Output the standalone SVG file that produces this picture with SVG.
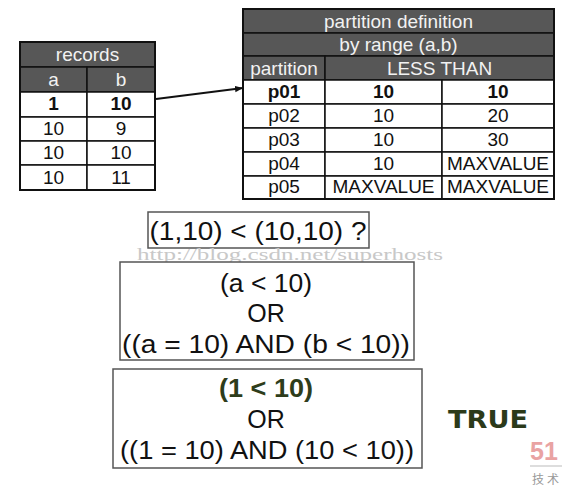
<svg xmlns="http://www.w3.org/2000/svg" width="562" height="491" viewBox="0 0 562 491">
<defs>
<style>
text{font-family:"Liberation Sans",Arial,sans-serif;text-anchor:middle}
.hd{fill:#575757;stroke:#111;stroke-width:1.5}
.cell{fill:#fff;stroke:#111;stroke-width:1.5}
.ht{fill:#f2f2f2;font-size:19px}
.dt{fill:#111;font-size:19px}
.b{font-weight:bold}
.box{fill:#fff;stroke:#555;stroke-width:1.5}
.bt{fill:#111;font-size:25px}
.g{fill:#2e3d1b;font-weight:bold}
</style>
<marker id="ah" viewBox="0 0 10 10" refX="10" refY="5" markerWidth="8" markerHeight="8" markerUnits="userSpaceOnUse" orient="auto"><path d="M0,1 L10,5 L0,9 z" fill="#111"/></marker>
</defs>
<rect width="562" height="491" fill="#fff"/>

<g id="records">
<rect class="hd" x="20" y="42" width="135" height="25"/>
<rect class="hd" x="20" y="67" width="67" height="25"/>
<rect class="hd" x="87" y="67" width="68" height="25"/>
<rect class="cell" x="20" y="92" width="67" height="25"/><rect class="cell" x="87" y="92" width="68" height="25"/>
<rect class="cell" x="20" y="117" width="67" height="24"/><rect class="cell" x="87" y="117" width="68" height="24"/>
<rect class="cell" x="20" y="141" width="67" height="24"/><rect class="cell" x="87" y="141" width="68" height="24"/>
<rect class="cell" x="20" y="165" width="67" height="25"/><rect class="cell" x="87" y="165" width="68" height="25"/>
<rect x="20" y="42" width="135" height="148" fill="none" stroke="#111" stroke-width="2"/>
<text class="ht" x="87.5" y="61">records</text>
<text class="ht" x="53.5" y="86">a</text>
<text class="ht" x="121" y="86">b</text>
<text class="dt b" x="53.5" y="110">1</text><text class="dt b" x="121" y="110">10</text>
<text class="dt" x="53.5" y="135">10</text><text class="dt" x="121" y="135">9</text>
<text class="dt" x="53.5" y="159">10</text><text class="dt" x="121" y="159">10</text>
<text class="dt" x="53.5" y="184">10</text><text class="dt" x="121" y="184">11</text>
</g>

<g id="partitions">
<rect class="hd" x="243" y="9" width="311" height="24"/>
<rect class="hd" x="243" y="33" width="311" height="23"/>
<rect class="hd" x="243" y="56" width="82" height="24"/>
<rect class="hd" x="325" y="56" width="229" height="24"/>
<g class="rows">
<rect class="cell" x="243" y="80" width="82" height="24"/><rect class="cell" x="325" y="80" width="117" height="24"/><rect class="cell" x="442" y="80" width="112" height="24"/>
<rect class="cell" x="243" y="104" width="82" height="24"/><rect class="cell" x="325" y="104" width="117" height="24"/><rect class="cell" x="442" y="104" width="112" height="24"/>
<rect class="cell" x="243" y="128" width="82" height="24"/><rect class="cell" x="325" y="128" width="117" height="24"/><rect class="cell" x="442" y="128" width="112" height="24"/>
<rect class="cell" x="243" y="152" width="82" height="24"/><rect class="cell" x="325" y="152" width="117" height="24"/><rect class="cell" x="442" y="152" width="112" height="24"/>
<rect class="cell" x="243" y="176" width="82" height="23"/><rect class="cell" x="325" y="176" width="117" height="23"/><rect class="cell" x="442" y="176" width="112" height="23"/>
</g>
<rect x="243" y="9" width="311" height="190" fill="none" stroke="#111" stroke-width="2"/>
<text class="ht" x="398.5" y="28">partition definition</text>
<text class="ht" x="398.5" y="51">by range (a,b)</text>
<text class="ht" x="284" y="75">partition</text>
<text class="ht" x="439.5" y="75">LESS THAN</text>
<text class="dt b" x="284" y="98">p01</text><text class="dt b" x="383.5" y="98">10</text><text class="dt b" x="498" y="98">10</text>
<text class="dt" x="284" y="122">p02</text><text class="dt" x="383.5" y="122">10</text><text class="dt" x="498" y="122">20</text>
<text class="dt" x="284" y="146">p03</text><text class="dt" x="383.5" y="146">10</text><text class="dt" x="498" y="146">30</text>
<text class="dt" x="284" y="170">p04</text><text class="dt" x="383.5" y="170">10</text><text class="dt" x="498" y="170">MAXVALUE</text>
<text class="dt" x="284" y="193">p05</text><text class="dt" x="383.5" y="193">MAXVALUE</text><text class="dt" x="498" y="193">MAXVALUE</text>
</g>

<g id="connectors">
<line x1="156" y1="99" x2="243" y2="88" stroke="#111" stroke-width="2" marker-end="url(#ah)"/>
</g>

<g id="question">
<rect class="box" x="148" y="212" width="221" height="36"/>
<text class="bt" x="258" y="240" textLength="217" lengthAdjust="spacingAndGlyphs">(1,10) &lt; (10,10) ?</text>
</g>

<text x="290" y="260" fill="#c8c8c8" font-size="16" textLength="306" lengthAdjust="spacingAndGlyphs" style="font-family:'Liberation Serif',serif">http://blog.csdn.net/superhosts</text>

<g id="condition">
<rect class="box" x="120" y="262" width="294" height="98"/>
<text class="bt" x="266" y="292" textLength="92" lengthAdjust="spacingAndGlyphs">(a &lt; 10)</text>
<text class="bt" x="266" y="322">OR</text>
<text class="bt" x="266" y="353" textLength="288" lengthAdjust="spacingAndGlyphs">((a = 10) AND (b &lt; 10))</text>
</g>

<g id="evaluation">
<rect class="box" x="113" y="369" width="309" height="99"/>
<text class="bt g" x="266" y="397" textLength="94" lengthAdjust="spacingAndGlyphs">(1 &lt; 10)</text>
<text class="bt" x="266" y="428">OR</text>
<text class="bt" x="267" y="459" textLength="294" lengthAdjust="spacingAndGlyphs">((1 = 10) AND (10 &lt; 10))</text>
</g>

<g id="result">
<text x="488" y="428" fill="#2b3a1a" font-size="25" font-weight="bold" textLength="80" lengthAdjust="spacingAndGlyphs" style="font-family:'DejaVu Sans',sans-serif">TRUE</text>
</g>

<g id="logo">
<text x="530" y="460" fill="#e9a3a3" font-size="25" font-weight="bold" style="text-anchor:start">51</text>
<line x1="530" y1="466" x2="562" y2="466" stroke="#bbb" stroke-width="1"/>
<text x="532" y="484" fill="#999" font-size="12" letter-spacing="3" style="text-anchor:start;font-family:'Noto Sans CJK SC',sans-serif">技术</text>
</g>
</svg>
